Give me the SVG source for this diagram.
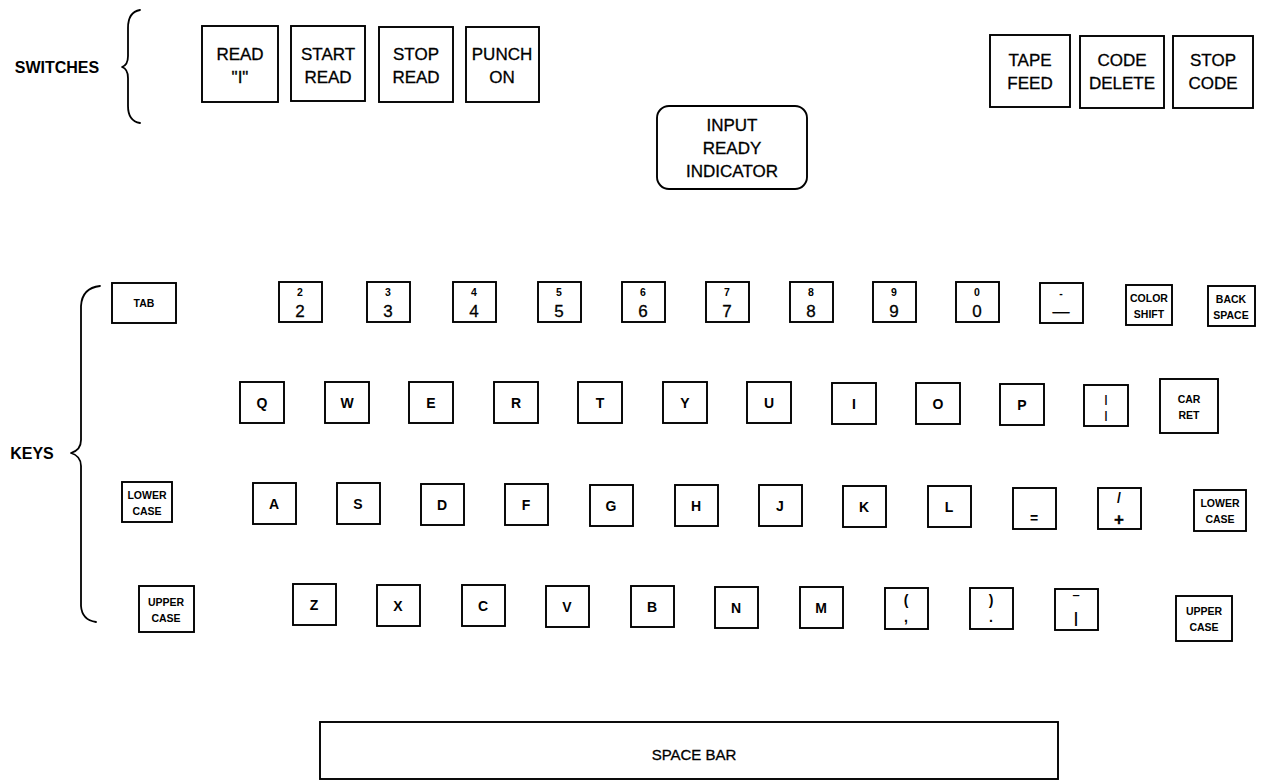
<svg xmlns="http://www.w3.org/2000/svg" width="1270" height="783" viewBox="0 0 1270 783">
<style>
.bg{fill:#fff}
.k{fill:#fff;stroke:#000;stroke-width:1.9}
.br{fill:none;stroke:#000;stroke-width:1.8;stroke-linecap:round;stroke-linejoin:round}
text{font-family:"Liberation Sans",Arial,sans-serif;fill:#000;text-anchor:middle}
.lab{font-size:16px;font-weight:bold}
.sw{font-size:17px;stroke:#000;stroke-width:0.3}
.sb{font-size:15px;stroke:#000;stroke-width:0.3}
.key{font-size:14px;font-weight:bold}
.sm{font-size:10.5px;font-weight:bold}
.dg{font-size:17px;stroke:#000;stroke-width:0.3}
.tiny{font-size:10.5px;font-weight:bold}
</style>
<rect class="bg" width="1270" height="783"/>
<g id="braces">
<path class="br" d="M140 10 Q128 12 128 28 L128 56 Q128 65 122 67 Q128 69 128 78 L128 106 Q128 121 140 123"/>
<path class="br" d="M100 286 Q82 288 81 306 L81 440 Q81 450 71 453 Q81 456 81 466 L81 606 Q82 620 96 622"/>
</g>
<g id="labels">
<text class="lab" x="57" y="73">SWITCHES</text>
<text class="lab" x="32" y="459">KEYS</text>
</g>
<g id="switches">
<g id="sw-read-i"><rect class="k" x="202" y="26" width="76" height="76"/><text class="sw" x="240" y="60">READ</text><text class="sw" x="240" y="83">"I"</text></g>
<g id="sw-start-read"><rect class="k" x="291" y="26" width="74" height="75"/><text class="sw" x="328" y="60">START</text><text class="sw" x="328" y="83">READ</text></g>
<g id="sw-stop-read"><rect class="k" x="379" y="27" width="74" height="75"/><text class="sw" x="416" y="60">STOP</text><text class="sw" x="416" y="83">READ</text></g>
<g id="sw-punch-on"><rect class="k" x="466" y="27" width="73" height="75"/><text class="sw" x="502" y="60">PUNCH</text><text class="sw" x="502" y="83">ON</text></g>
<g id="sw-tape-feed"><rect class="k" x="990" y="35" width="80" height="72"/><text class="sw" x="1030" y="66">TAPE</text><text class="sw" x="1030" y="89">FEED</text></g>
<g id="sw-code-delete"><rect class="k" x="1080" y="36" width="84" height="72"/><text class="sw" x="1122" y="66">CODE</text><text class="sw" x="1122" y="89">DELETE</text></g>
<g id="sw-stop-code"><rect class="k" x="1173" y="36" width="80" height="72"/><text class="sw" x="1213" y="66">STOP</text><text class="sw" x="1213" y="89">CODE</text></g>
<g id="input-ready-indicator"><rect class="k" x="657" y="106" width="150" height="83" rx="12"/><text class="sw" x="732" y="131">INPUT</text><text class="sw" x="732" y="154">READY</text><text class="sw" x="732" y="177">INDICATOR</text></g>
</g>
<g id="row1">
<g id="key-tab"><rect class="k" x="112" y="283" width="64" height="40"/><text class="sm" x="144" y="307">TAB</text></g>
<g id="key-2"><rect class="k" x="279" y="282" width="43" height="40"/><text class="sm" x="300" y="296">2</text><text class="dg" x="300" y="317">2</text></g>
<g id="key-3"><rect class="k" x="367" y="282" width="43" height="40"/><text class="sm" x="388" y="296">3</text><text class="dg" x="388" y="317">3</text></g>
<g id="key-4"><rect class="k" x="453" y="282" width="43" height="40"/><text class="sm" x="474" y="296">4</text><text class="dg" x="474" y="317">4</text></g>
<g id="key-5"><rect class="k" x="538" y="282" width="43" height="40"/><text class="sm" x="559" y="296">5</text><text class="dg" x="559" y="317">5</text></g>
<g id="key-6"><rect class="k" x="622" y="282" width="43" height="40"/><text class="sm" x="643" y="296">6</text><text class="dg" x="643" y="317">6</text></g>
<g id="key-7"><rect class="k" x="706" y="282" width="43" height="40"/><text class="sm" x="727" y="296">7</text><text class="dg" x="727" y="317">7</text></g>
<g id="key-8"><rect class="k" x="790" y="282" width="43" height="40"/><text class="sm" x="811" y="296">8</text><text class="dg" x="811" y="317">8</text></g>
<g id="key-9"><rect class="k" x="873" y="282" width="43" height="40"/><text class="sm" x="894" y="296">9</text><text class="dg" x="894" y="317">9</text></g>
<g id="key-0"><rect class="k" x="956" y="282" width="43" height="40"/><text class="sm" x="977" y="296">0</text><text class="dg" x="977" y="317">0</text></g>
<g id="key-minus"><rect class="k" x="1040" y="283" width="43" height="40"/><text class="sm" x="1061" y="297">-</text><text class="dg" x="1061" y="317">—</text></g>
<g id="key-color-shift"><rect class="k" x="1126" y="285" width="46" height="40"/><text class="tiny" x="1149" y="302">COLOR</text><text class="tiny" x="1149" y="318">SHIFT</text></g>
<g id="key-back-space"><rect class="k" x="1208" y="286" width="47" height="40"/><text class="tiny" x="1231" y="303">BACK</text><text class="tiny" x="1231" y="319">SPACE</text></g>
</g>
<g id="row2">
<g id="key-q"><rect class="k" x="240" y="382" width="44" height="41"/><text class="key" x="262" y="408">Q</text></g>
<g id="key-w"><rect class="k" x="325" y="382" width="44" height="41"/><text class="key" x="347" y="408">W</text></g>
<g id="key-e"><rect class="k" x="409" y="382" width="44" height="41"/><text class="key" x="431" y="408">E</text></g>
<g id="key-r"><rect class="k" x="494" y="382" width="44" height="41"/><text class="key" x="516" y="408">R</text></g>
<g id="key-t"><rect class="k" x="578" y="382" width="44" height="41"/><text class="key" x="600" y="408">T</text></g>
<g id="key-y"><rect class="k" x="663" y="382" width="44" height="41"/><text class="key" x="685" y="408">Y</text></g>
<g id="key-u"><rect class="k" x="747" y="382" width="44" height="41"/><text class="key" x="769" y="408">U</text></g>
<g id="key-i"><rect class="k" x="832" y="383" width="44" height="41"/><text class="key" x="854" y="409">I</text></g>
<g id="key-o"><rect class="k" x="916" y="383" width="44" height="41"/><text class="key" x="938" y="409">O</text></g>
<g id="key-p"><rect class="k" x="1000" y="384" width="44" height="41"/><text class="key" x="1022" y="410">P</text></g>
<g id="key-bar"><rect class="k" x="1084" y="385" width="44" height="41"/><text class="sm" x="1106" y="403">|</text><text class="sm" x="1106" y="419">|</text></g>
<g id="key-car-ret"><rect class="k" x="1160" y="379" width="58" height="54"/><text class="tiny" x="1189" y="403">CAR</text><text class="tiny" x="1189" y="419">RET</text></g>
</g>
<g id="row3">
<g id="key-lower-case-l"><rect class="k" x="122" y="482" width="50" height="40"/><text class="tiny" x="147" y="499">LOWER</text><text class="tiny" x="147" y="515">CASE</text></g>
<g id="key-a"><rect class="k" x="253" y="483" width="43" height="41"/><text class="key" x="274" y="509">A</text></g>
<g id="key-s"><rect class="k" x="337" y="483" width="43" height="41"/><text class="key" x="358" y="509">S</text></g>
<g id="key-d"><rect class="k" x="421" y="484" width="43" height="41"/><text class="key" x="442" y="510">D</text></g>
<g id="key-f"><rect class="k" x="505" y="484" width="43" height="41"/><text class="key" x="526" y="510">F</text></g>
<g id="key-g"><rect class="k" x="590" y="485" width="43" height="41"/><text class="key" x="611" y="511">G</text></g>
<g id="key-h"><rect class="k" x="675" y="485" width="43" height="41"/><text class="key" x="696" y="511">H</text></g>
<g id="key-j"><rect class="k" x="759" y="485" width="43" height="41"/><text class="key" x="780" y="511">J</text></g>
<g id="key-k"><rect class="k" x="843" y="486" width="43" height="41"/><text class="key" x="864" y="512">K</text></g>
<g id="key-l"><rect class="k" x="928" y="486" width="43" height="41"/><text class="key" x="949" y="512">L</text></g>
<g id="key-equals"><rect class="k" x="1013" y="488" width="43" height="41"/><text class="key" x="1034" y="523">=</text></g>
<g id="key-slash-plus"><rect class="k" x="1098" y="488" width="43" height="41"/><text class="key" x="1119" y="503">/</text><text class="dg" x="1119" y="525" font-weight="bold">+</text></g>
<g id="key-lower-case-r"><rect class="k" x="1194" y="490" width="52" height="41"/><text class="tiny" x="1220" y="507">LOWER</text><text class="tiny" x="1220" y="523">CASE</text></g>
</g>
<g id="row4">
<g id="key-upper-case-l"><rect class="k" x="139" y="586" width="55" height="46"/><text class="tiny" x="166" y="606">UPPER</text><text class="tiny" x="166" y="622">CASE</text></g>
<g id="key-z"><rect class="k" x="293" y="584" width="43" height="41"/><text class="key" x="314" y="610">Z</text></g>
<g id="key-x"><rect class="k" x="377" y="585" width="43" height="41"/><text class="key" x="398" y="611">X</text></g>
<g id="key-c"><rect class="k" x="462" y="585" width="43" height="41"/><text class="key" x="483" y="611">C</text></g>
<g id="key-v"><rect class="k" x="546" y="586" width="43" height="41"/><text class="key" x="567" y="612">V</text></g>
<g id="key-b"><rect class="k" x="631" y="586" width="43" height="41"/><text class="key" x="652" y="612">B</text></g>
<g id="key-n"><rect class="k" x="715" y="587" width="43" height="41"/><text class="key" x="736" y="613">N</text></g>
<g id="key-m"><rect class="k" x="800" y="587" width="43" height="41"/><text class="key" x="821" y="613">M</text></g>
<g id="key-paren-comma"><rect class="k" x="885" y="588" width="43" height="41"/><text class="key" x="906" y="605">(</text><text class="key" x="906" y="622">,</text></g>
<g id="key-paren-period"><rect class="k" x="970" y="588" width="43" height="41"/><text class="key" x="991" y="605">)</text><text class="key" x="991" y="622">.</text></g>
<g id="key-overbar"><rect class="k" x="1055" y="589" width="43" height="41"/><text class="key" x="1076" y="607">‾</text><text class="key" x="1076" y="623">|</text></g>
<g id="key-upper-case-r"><rect class="k" x="1176" y="596" width="56" height="45"/><text class="tiny" x="1204" y="615">UPPER</text><text class="tiny" x="1204" y="631">CASE</text></g>
</g>
<g id="space-bar"><rect class="k" x="320" y="722" width="738" height="57"/><text class="sb" x="694" y="760">SPACE BAR</text></g>
</svg>
